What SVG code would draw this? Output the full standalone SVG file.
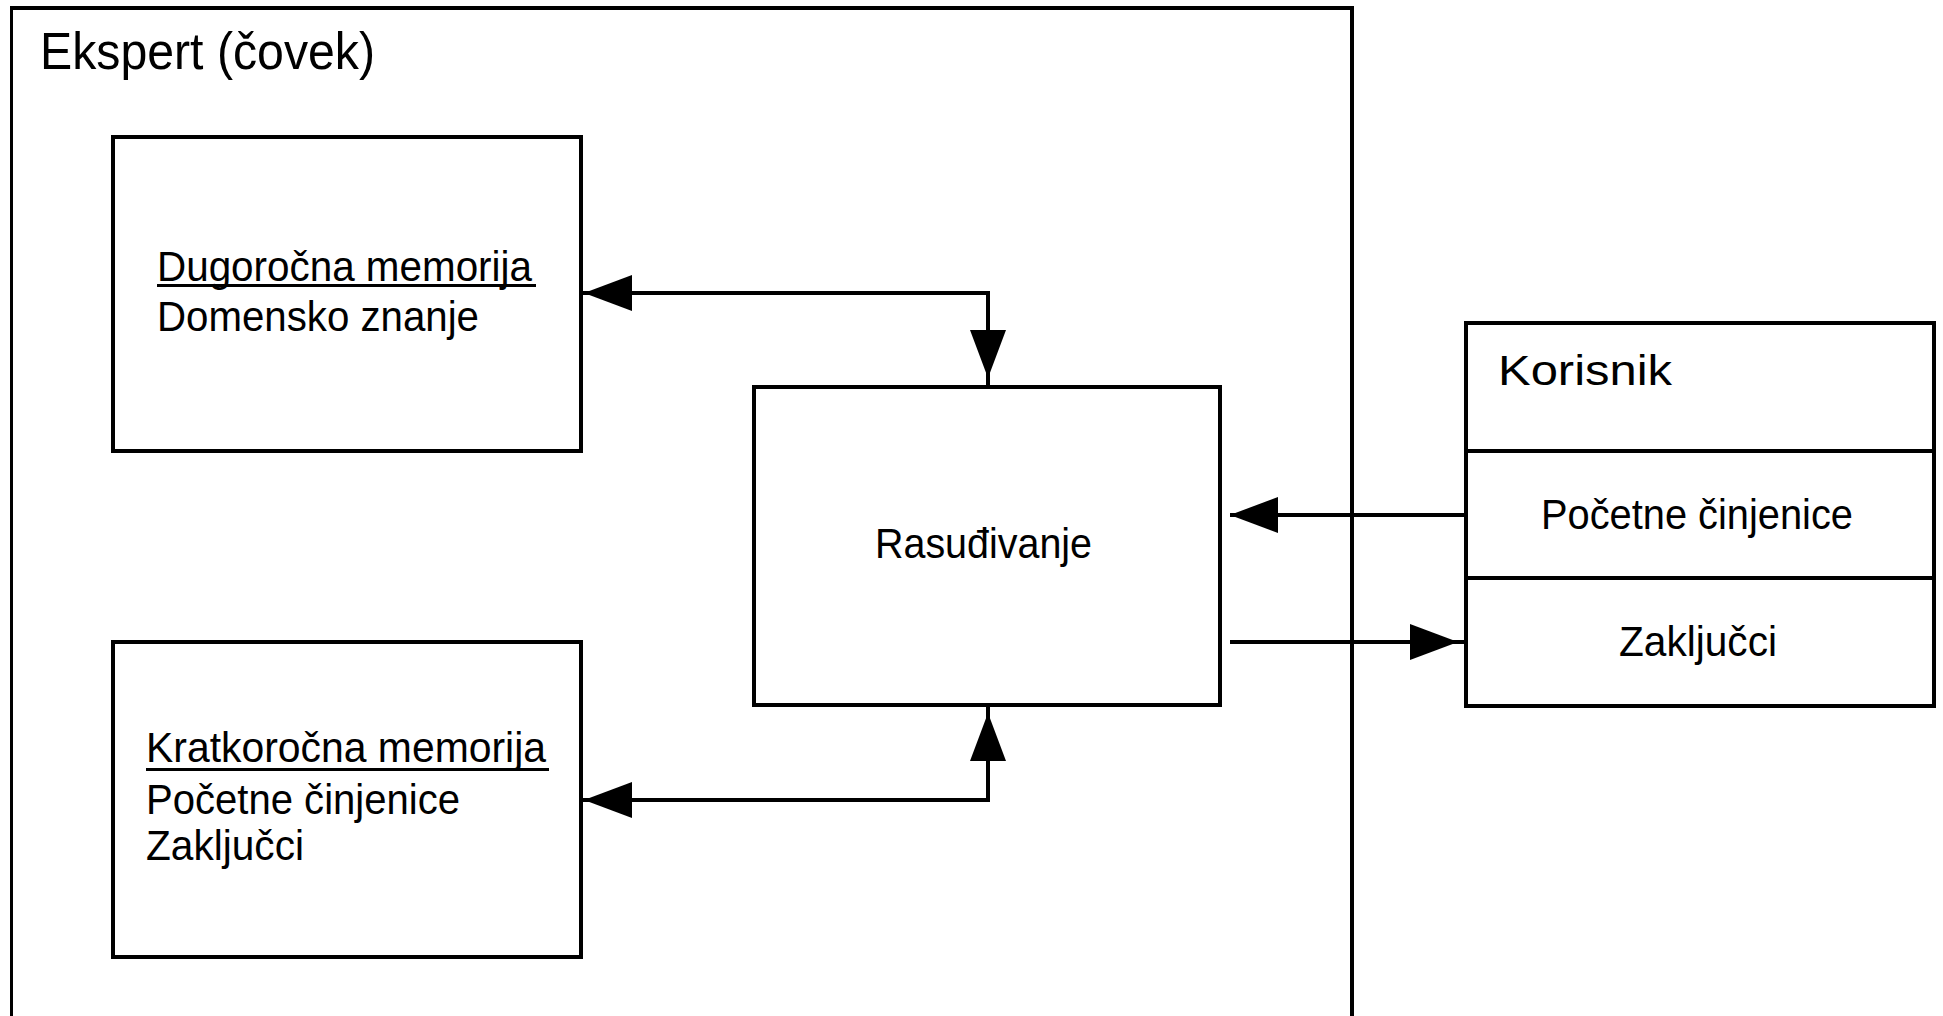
<svg xmlns="http://www.w3.org/2000/svg" xmlns:xlink="http://www.w3.org/1999/xlink" width="1943" height="1016" viewBox="0 0 1943 1016">
<style>
.box{fill:#fff;stroke:#000;stroke-width:3.2;shape-rendering:crispEdges}
.frame{fill:none;stroke:#000;stroke-width:3.2;shape-rendering:crispEdges}
.con{fill:none;stroke:#000;stroke-width:3.2;shape-rendering:crispEdges}
.ul{stroke:#000;stroke-width:2.6;shape-rendering:crispEdges}
.t{font-family:"Liberation Sans",Arial,sans-serif;font-size:43px;fill:#000}
.big{font-size:52px}
.ah{fill:#000}
</style>
<defs>
<path id="ah" class="ah" d="M0,0 L-48,-18 L-48,18 Z"/>
</defs>
<rect width="1943" height="1016" fill="#fff"/>
<g id="ekspert">
<rect class="frame" x="11.5" y="8" width="1340.5" height="1040"/>
<text class="t big" x="40" y="69" textLength="335" lengthAdjust="spacingAndGlyphs">Ekspert (čovek)</text>
</g>
<g id="dugorocna">
<rect class="box" x="113" y="137" width="468" height="314"/>
<text class="t" x="157" y="281" textLength="375" lengthAdjust="spacingAndGlyphs">Dugoročna memorija</text>
<line class="ul" x1="157" y1="285.5" x2="536" y2="285.5"/>
<text class="t" x="157" y="331" textLength="322" lengthAdjust="spacingAndGlyphs">Domensko znanje</text>
</g>
<g id="kratkorocna">
<rect class="box" x="113" y="642" width="468" height="315"/>
<text class="t" x="146" y="762" textLength="400" lengthAdjust="spacingAndGlyphs">Kratkoročna memorija</text>
<line class="ul" x1="146" y1="769.5" x2="549" y2="769.5"/>
<text class="t" x="146" y="814" textLength="314" lengthAdjust="spacingAndGlyphs">Početne činjenice</text>
<text class="t" x="146" y="860" textLength="158" lengthAdjust="spacingAndGlyphs">Zaključci</text>
</g>
<g id="rasudivanje">
<rect class="box" x="754" y="387" width="466" height="318"/>
<text class="t" x="875" y="558" textLength="217" lengthAdjust="spacingAndGlyphs">Rasuđivanje</text>
</g>
<g id="korisnik">
<rect class="box" x="1466" y="323" width="468" height="383"/>
<line class="con" x1="1466" y1="451" x2="1934" y2="451"/>
<line class="con" x1="1466" y1="578" x2="1934" y2="578"/>
<text class="t" x="1498" y="385" font-size="56" textLength="174" lengthAdjust="spacingAndGlyphs">Korisnik</text>
<text class="t" x="1541" y="529" textLength="312" lengthAdjust="spacingAndGlyphs">Početne činjenice</text>
<text class="t" x="1619" y="656" textLength="158" lengthAdjust="spacingAndGlyphs">Zaključci</text>
</g>
<g id="connectors">
<path class="con" d="M581,293 H988 V387"/>
<use xlink:href="#ah" transform="translate(584,293) rotate(180)"/>
<use xlink:href="#ah" transform="translate(988,378) rotate(90)"/>
<path class="con" d="M581,800 H988 V705"/>
<use xlink:href="#ah" transform="translate(584,800) rotate(180)"/>
<use xlink:href="#ah" transform="translate(988,713) rotate(-90)"/>
<path class="con" d="M1466,515 H1230"/>
<use xlink:href="#ah" transform="translate(1230,515) rotate(180)"/>
<path class="con" d="M1230,642 H1466"/>
<use xlink:href="#ah" transform="translate(1458,642)"/>
</g>
</svg>
